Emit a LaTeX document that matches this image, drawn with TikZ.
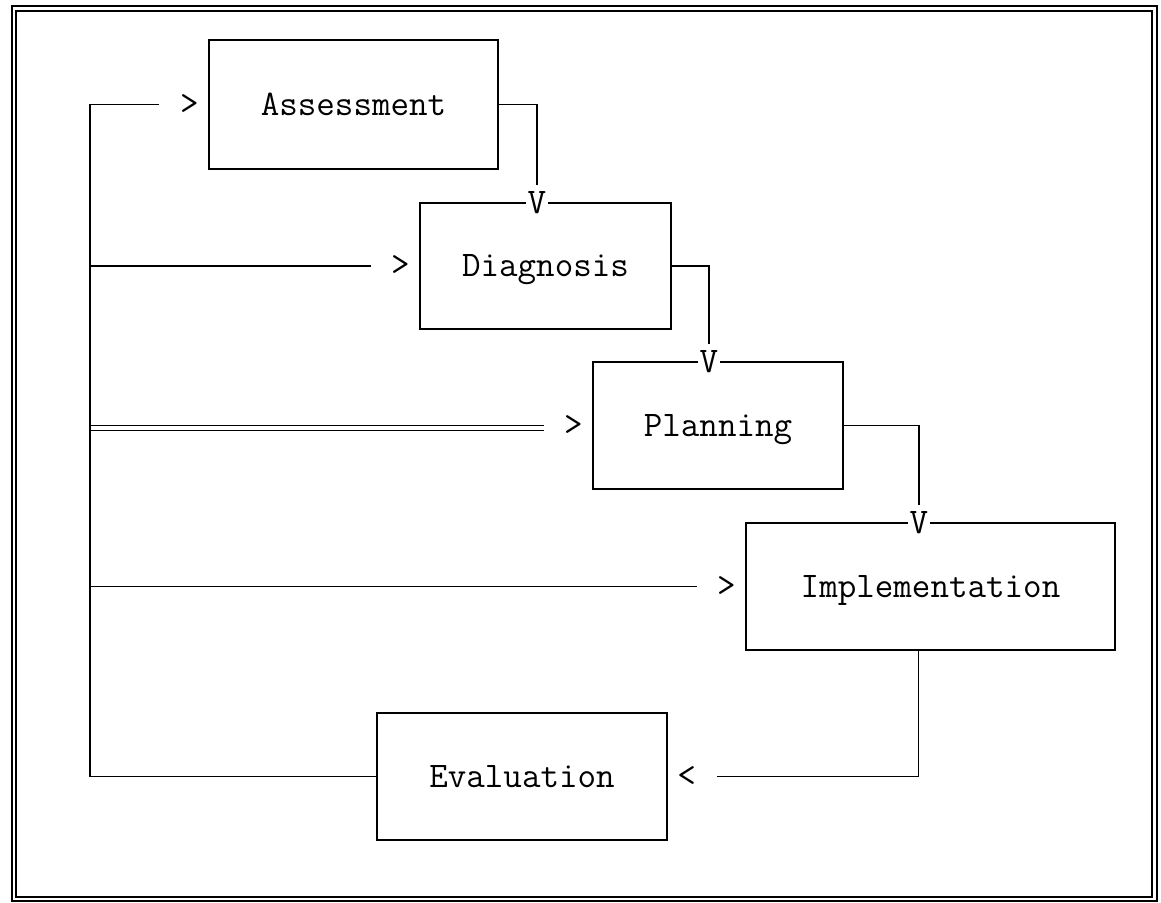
\documentclass[tikz,border=0pt]{standalone}
\usepackage{fontspec}
\usetikzlibrary{positioning}

\tikzset{
  stage/.style={draw, rectangle, line width=0.9pt, font=\ttfamily\fontsize{18}{20}\selectfont, text height=11pt, text depth=0pt},
  tipchar/.style={inner sep=0pt, font=\ttfamily\fontsize{18}{20}\selectfont},
  vchar/.style={fill=white, inner xsep=1pt, inner ysep=0pt, font=\ttfamily\fontsize{18}{20}\selectfont},
  flow/.style={line width=0.9pt},
}

\begin{document}
\begin{tikzpicture}[x=0.5pt, y=-0.5pt]
    \useasboundingbox (0,0) rectangle (1161,903);
    % double frame
    \draw[line width=0.9pt] (12,6) rectangle (1157,901);
    \draw[line width=0.9pt] (16,11) rectangle (1152,897);

    \node[stage, minimum width=144.5pt, minimum height=64.5pt] (assess) at (353.5,104.5) {Assessment};
    \node[stage, minimum width=125.5pt, minimum height=63pt] (diag) at (545.5,266) {Diagnosis};
    \node[stage, minimum width=125pt, minimum height=63.5pt] (plan) at (718,425.5) {Planning};
    \node[stage, minimum width=184.5pt, minimum height=63.5pt] (impl) at (930.5,586.5) {Implementation};
    \node[stage, minimum width=145pt, minimum height=63.5pt] (eval) at (522,776.5) {Evaluation};

    \node[tipchar, left=4.5pt of assess] (gt1) {>};
    \node[tipchar, left=4.5pt of diag] (gt2) {>};
    \node[tipchar, left=4.5pt of plan] (gt3) {>};
    \node[tipchar, left=4.5pt of impl] (gt4) {>};
    \node[tipchar, right=4.5pt of eval] (lt5) {<};

    \node[vchar] (v2) at (537,203) {V};
    \node[vchar] (v3) at (709,362) {V};
    \node[vchar] (v4) at (919,523) {V};

    \draw[flow, shorten >=3pt] (assess.east) -| (v2);
    \draw[flow, shorten >=3pt] (diag.east) -| (v3);
    \draw[flow, shorten >=3pt] (plan.east) -| (v4);
    \draw[flow, shorten >=10.5pt] ([xshift=-6pt]impl.south) |- (lt5);

    % feedback bus
    \coordinate (b1) at (90,104.5);
    \coordinate (b2) at (b1 |- gt2);
    \coordinate (b3) at (b1 |- gt3);
    \coordinate (b4) at (b1 |- gt4);
    \draw[flow, shorten >=10.5pt] (eval.west) -| (b1) -- (gt1);
    \draw[flow, shorten >=10pt] (b2) -- (gt2);
    \draw[flow, shorten >=10pt] (b3) -- (gt3);
    \draw[flow, shorten >=10pt] ([yshift=-2.5pt]b3) -- ([yshift=-2.5pt]b3 -| gt3.west);
    \draw[flow, shorten >=10pt] (b4) -- (gt4);
\end{tikzpicture}
\end{document}
